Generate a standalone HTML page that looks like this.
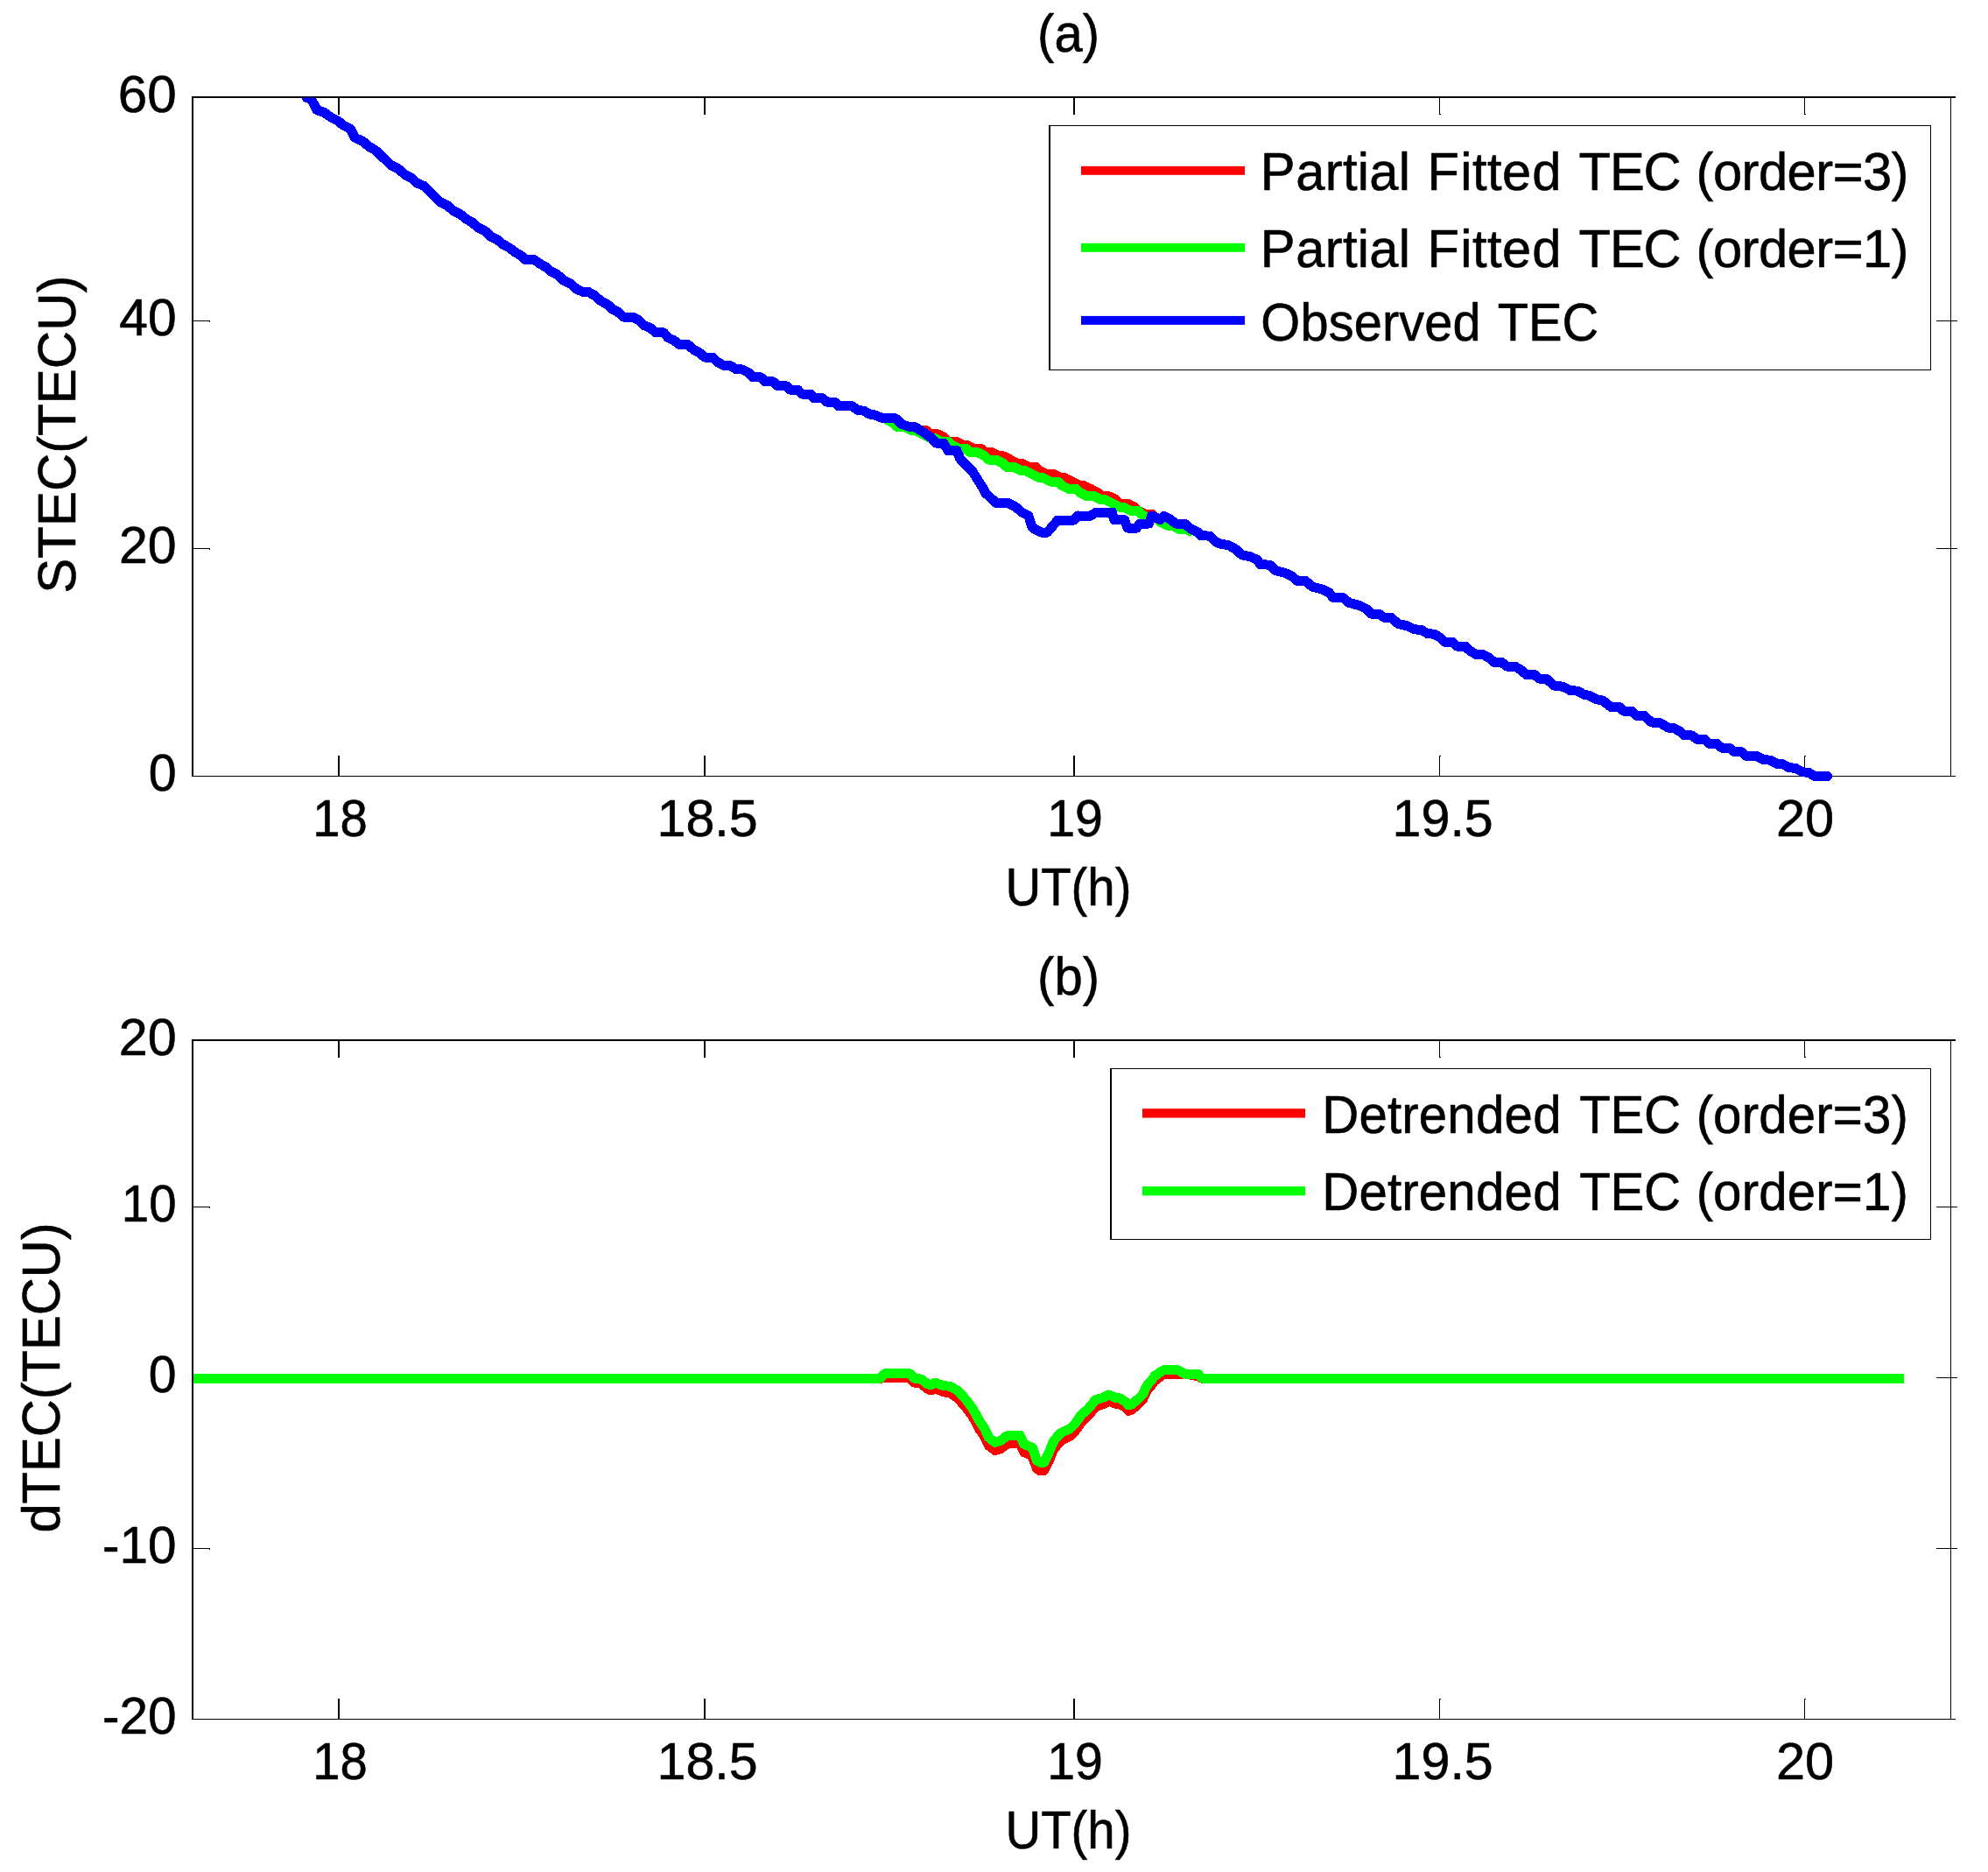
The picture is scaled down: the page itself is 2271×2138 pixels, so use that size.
<!DOCTYPE html>
<html><head><meta charset="utf-8"><title>TEC detrending figure</title>
<style>html,body{margin:0;padding:0;background:#fff}svg text{font-kerning:none;fill:#000;stroke:#000;stroke-width:1.0px;stroke-linejoin:round}</style></head>
<body>
<svg width="2271" height="2138" viewBox="0 0 2271 2138" style="display:block">
<rect width="2271" height="2138" fill="#fff"/>
<defs><clipPath id="ca"><rect x="221" y="111.5" width="2012" height="790"/></clipPath></defs>
<g shape-rendering="crispEdges">
<rect x="219" y="110" width="2" height="777" fill="#000"/>
<rect x="219" y="110" width="2015" height="2" fill="#000"/>
<rect x="219" y="886" width="2015" height="1" fill="#000"/>
<rect x="2228" y="110" width="1" height="777" fill="#000"/>
<rect x="386" y="112" width="2" height="19" fill="#000"/>
<rect x="386" y="863" width="2" height="23" fill="#000"/>
<rect x="804" y="112" width="2" height="19" fill="#000"/>
<rect x="804" y="863" width="2" height="23" fill="#000"/>
<rect x="1226" y="112" width="2" height="19" fill="#000"/>
<rect x="1226" y="863" width="2" height="23" fill="#000"/>
<rect x="1644" y="112" width="1" height="19" fill="#000"/>
<rect x="1644" y="863" width="1" height="23" fill="#000"/>
<rect x="1645" y="863" width="1" height="1" fill="#000"/>
<rect x="1645" y="130" width="1" height="1" fill="#000"/>
<rect x="2061" y="112" width="1" height="19" fill="#000"/>
<rect x="2061" y="863" width="1" height="23" fill="#000"/>
<rect x="2062" y="863" width="1" height="1" fill="#000"/>
<rect x="2062" y="130" width="1" height="1" fill="#000"/>
<rect x="221" y="366" width="19" height="1" fill="#000"/>
<rect x="239" y="366" width="1" height="2" fill="#000"/>
<rect x="2212" y="366" width="24" height="1" fill="#000"/>
<rect x="221" y="626" width="19" height="1" fill="#000"/>
<rect x="239" y="626" width="1" height="2" fill="#000"/>
<rect x="2212" y="626" width="24" height="1" fill="#000"/>
</g>
<g clip-path="url(#ca)">
<polyline points="1037.5,487.5 1041.7,487.5 1050.0,491.7 1058.3,491.7 1062.5,495.8 1070.8,495.8 1079.2,500.0 1083.3,504.2 1091.7,504.2 1100.0,508.3 1104.2,508.3 1112.5,512.5 1120.8,512.5 1125.0,516.7 1133.3,516.7 1141.7,520.8 1145.8,520.8 1154.2,525.0 1162.5,529.2 1166.7,529.2 1175.0,533.3 1183.3,533.3 1187.5,537.5 1195.8,541.7 1204.2,541.7 1212.5,545.8 1216.7,545.8 1225.0,550.0 1233.3,554.2 1237.5,554.2 1245.8,558.3 1254.2,562.5 1258.3,566.7 1266.7,566.7 1275.0,570.8 1279.2,575.0 1287.5,575.0 1295.8,579.2 1300.0,583.3 1308.3,587.5 1316.7,587.5 1320.8,591.7" fill="none" stroke="#f00" stroke-width="11" stroke-linejoin="round" stroke-linecap="butt" shape-rendering="crispEdges"/>
<polyline points="1012.5,479.2 1020.8,483.3 1025.0,487.5 1033.3,487.5 1041.7,491.7 1045.8,491.7 1054.2,495.8 1062.5,500.0 1066.7,500.0 1075.0,504.2 1083.3,504.2 1087.5,508.3 1095.8,512.5 1104.2,512.5 1108.3,516.7 1116.7,516.7 1125.0,520.8 1129.2,525.0 1137.5,525.0 1145.8,529.2 1150.0,533.3 1158.3,533.3 1166.7,537.5 1170.8,537.5 1179.2,541.7 1187.5,545.8 1191.7,545.8 1200.0,550.0 1208.3,550.0 1212.5,554.2 1220.8,558.3 1229.2,558.3 1233.3,562.5 1241.7,566.7 1250.0,566.7 1258.3,570.8 1262.5,570.8 1270.8,575.0 1279.2,579.2 1283.3,579.2 1291.7,583.3 1300.0,583.3 1304.2,587.5 1312.5,591.7 1320.8,591.7 1325.0,595.8 1333.3,600.0 1341.7,600.0 1345.8,604.2 1354.2,604.2 1362.5,608.3" fill="none" stroke="#0f0" stroke-width="11" stroke-linejoin="round" stroke-linecap="butt" shape-rendering="crispEdges"/>
<polyline points="350.1,111.5 355.4,113.3 359.4,120.1 362.2,125.8 370.2,128.2 378.3,134.2 386.3,138.2 392.4,143.3 400.4,147.3 405.5,157.3 414.5,161.4 421.5,167.4 428.6,171.4 446.7,188.5 454.7,192.6 462.8,199.6 470.8,203.6 475.9,208.7 484.9,212.7 503.0,230.8 511.1,234.8 518.1,240.8 526.2,244.9 532.2,249.9 539.3,253.9 546.3,260.0 554.3,264.0 560.4,270.0 568.4,274.0 574.5,279.1 581.5,282.7 588.6,288.1 595.6,292.2 600.6,296.8 610.7,296.8 616.7,301.2 623.8,305.2 629.8,310.3 636.8,313.7 643.9,320.3 651.9,324.3 659.0,330.4 666.0,333.4 672.1,333.4 679.1,337.4 686.1,343.5 694.2,347.9 700.2,353.5 706.0,356.4 712.1,362.0 722.6,362.0 729.4,365.5 735.5,371.5 743.0,374.5 749.0,379.8 758.1,379.8 763.4,385.8 770.2,388.9 776.2,393.7 786.0,393.7 792.0,399.1 799.6,403.2 804.9,408.0 813.9,408.0 820.0,413.7 826.8,417.5 834.3,417.8 841.1,421.7 847.9,422.0 855.4,425.8 860.0,430.8 869.0,430.8 874.3,435.9 883.3,435.9 888.6,440.9 898.4,440.9 902.2,445.0 911.3,445.0 915.8,450.0 926.3,450.0 930.1,454.9 939.9,454.9 944.5,459.0 953.5,459.0 958.0,463.8 973.1,463.8 980.7,468.8 986.7,469.1 993.5,473.1 997.5,473.3 1008.9,477.9 1023.3,477.9 1030.2,484.6 1037.8,487.1 1045.3,487.7 1055.4,494.0 1064.2,500.3 1069.2,506.0 1078.0,506.0 1083.1,514.8 1093.1,514.8 1096.9,524.2 1110.7,538.0 1117.0,548.1 1123.3,558.1 1125.8,563.2 1138.4,574.7 1152.2,574.7 1161.0,579.5 1167.3,585.2 1174.9,589.0 1178.6,600.9 1181.1,604.0 1189.9,608.2 1196.2,608.2 1208.2,594.2 1226.4,594.2 1231.4,589.0 1232.6,589.2 1245.2,589.2 1252.7,585.0 1270.3,585.0 1272.8,593.9 1284.8,593.9 1287.9,603.0 1298.6,603.0 1301.7,598.0 1312.4,598.0 1315.6,589.2 1321.9,591.7 1325.6,593.6 1329.4,589.4 1335.7,592.3 1343.2,598.0 1353.3,598.0 1359.6,603.6 1368.4,608.0 1372.2,611.8 1382.2,612.1 1388.5,618.7 1396.1,621.9 1402.3,622.1 1411.1,626.9 1418.7,633.8 1428.8,635.9 1436.3,639.5 1440.0,644.8 1450.3,645.1 1457.1,651.6 1467.4,654.2 1475.1,657.6 1481.9,663.3 1491.3,663.3 1499.0,670.1 1510.1,673.0 1517.8,676.4 1522.9,682.4 1534.1,682.4 1540.9,688.4 1552.9,691.5 1560.6,695.3 1566.6,701.1 1575.1,701.1 1581.1,705.2 1588.8,705.2 1597.3,712.4 1607.6,714.9 1616.2,718.9 1623.0,719.2 1630.7,723.5 1638.4,724.3 1645.2,728.1 1650.4,733.2 1658.9,733.2 1664.0,738.0 1673.5,738.0 1679.4,743.5 1686.3,747.4 1694.8,747.9 1701.7,751.7 1706.8,756.3 1715.4,756.3 1721.3,761.1 1730.7,761.1 1737.6,765.4 1743.6,770.5 1753.0,770.5 1758.1,775.1 1760.0,775.1 1766.8,775.4 1775.4,783.1 1785.7,784.3 1794.2,788.7 1801.9,789.1 1809.6,793.4 1814.7,794.2 1823.3,798.5 1831.0,800.2 1840.4,807.4 1849.8,807.4 1854.9,812.2 1864.3,812.2 1869.5,817.3 1878.0,817.3 1886.6,825.0 1896.8,825.8 1905.4,831.0 1912.2,831.5 1919.1,835.3 1924.2,839.9 1932.7,839.9 1938.7,844.3 1947.3,844.3 1952.4,849.3 1961.0,849.3 1966.9,854.1 1975.5,854.1 1981.5,858.7 1989.2,858.7 1995.2,863.5 2006.3,863.5 2014.8,867.7 2021.7,868.1 2030.2,872.4 2037.1,872.9 2043.9,876.8 2050.7,877.2 2059.3,881.8 2066.1,882.3 2073.0,886.6 2087.5,886.6" fill="none" stroke="#00f" stroke-width="11" stroke-linejoin="round" stroke-linecap="round" shape-rendering="crispEdges"/>
</g>
<g shape-rendering="crispEdges">
<rect x="1198" y="143" width="1008" height="280" fill="#fff"/>
<rect x="1198" y="143" width="1008" height="1" fill="#000"/>
<rect x="1198" y="422" width="1008" height="1" fill="#000"/>
<rect x="1198" y="143" width="2" height="280" fill="#000"/>
<rect x="2205" y="143" width="1" height="280" fill="#000"/>
</g>
<rect x="1235" y="189.8" width="187" height="10" fill="#f00"/>
<rect x="1235" y="277.8" width="187" height="10" fill="#0f0"/>
<rect x="1235" y="360.9" width="187" height="10" fill="#00f"/>
<text transform="matrix(0.5966 0 0 0.6050 0 217.00)" x="2413.4 2481.0 2537.4 2571.1 2599.3 2621.8 2678.2 2700.7 2733.2 2796.2 2819.2 2847.8 2876.5 2933.9 2991.2 3023.0 3082.4 3147.2 3217.4 3247.4 3280.1 3334.7 3367.4 3422.1 3476.7 3509.4 3566.8 3621.4" y="0" font-size="100" font-family="Liberation Sans, Arial, Helvetica, sans-serif">Partial Fitted TEC (order=3)</text>
<text transform="matrix(0.5966 0 0 0.6050 0 304.90)" x="2413.4 2481.0 2537.4 2571.1 2599.3 2621.8 2678.2 2700.7 2733.2 2796.2 2819.2 2847.8 2876.5 2933.9 2991.2 3023.0 3082.4 3147.2 3217.4 3247.4 3280.1 3334.7 3367.4 3422.1 3476.7 3509.4 3566.8 3621.4" y="0" font-size="100" font-family="Liberation Sans, Arial, Helvetica, sans-serif">Partial Fitted TEC (order=1)</text>
<text transform="matrix(0.5780 0 0 0.6050 0 389.00)" x="2491.9 2570.0 2625.8 2676.0 2731.8 2765.2 2815.4 2871.2 2927.0 2959.9 3020.7 3087.2" y="0" font-size="100" font-family="Liberation Sans, Arial, Helvetica, sans-serif">Observed TEC</text>
<text transform="matrix(0.5801 0 0 0.6050 1185.10 58.80)" font-size="100" font-family="Liberation Sans, Arial, Helvetica, sans-serif">(a)</text>
<text transform="matrix(0.5637 0 0 0.6050 1148.45 1033.70)" font-size="100" font-family="Liberation Sans, Arial, Helvetica, sans-serif">UT(h)</text>
<text transform="translate(86.00 677.72) rotate(-90) scale(0.5999 0.6050)" font-size="100" font-family="Liberation Sans, Arial, Helvetica, sans-serif">STEC(TECU)</text>
<text transform="matrix(0.5621 0 0 0.5904 357.22 954.62)" font-size="100" font-family="Liberation Sans, Arial, Helvetica, sans-serif">18</text>
<text transform="matrix(0.5913 0 0 0.5904 750.60 954.62)" font-size="100" font-family="Liberation Sans, Arial, Helvetica, sans-serif">18.5</text>
<text transform="matrix(0.5724 0 0 0.5904 1196.24 954.62)" font-size="100" font-family="Liberation Sans, Arial, Helvetica, sans-serif">19</text>
<text transform="matrix(0.5919 0 0 0.5904 1590.59 954.62)" font-size="100" font-family="Liberation Sans, Arial, Helvetica, sans-serif">19.5</text>
<text transform="matrix(0.5953 0 0 0.5904 2029.01 954.62)" font-size="100" font-family="Liberation Sans, Arial, Helvetica, sans-serif">20</text>
<text transform="matrix(0.6015 0 0 0.5890 134.75 128.12)" font-size="100" font-family="Liberation Sans, Arial, Helvetica, sans-serif">60</text>
<text transform="matrix(0.5865 0 0 0.5890 136.35 383.37)" font-size="100" font-family="Liberation Sans, Arial, Helvetica, sans-serif">40</text>
<text transform="matrix(0.5904 0 0 0.5890 135.93 643.37)" font-size="100" font-family="Liberation Sans, Arial, Helvetica, sans-serif">20</text>
<text transform="matrix(0.5732 0 0 0.5890 169.66 903.32)" font-size="100" font-family="Liberation Sans, Arial, Helvetica, sans-serif">0</text>
<g shape-rendering="crispEdges">
<rect x="219" y="1187" width="2" height="777" fill="#000"/>
<rect x="219" y="1187" width="2015" height="2" fill="#000"/>
<rect x="219" y="1963" width="2015" height="1" fill="#000"/>
<rect x="2228" y="1187" width="1" height="777" fill="#000"/>
<rect x="386" y="1189" width="2" height="19" fill="#000"/>
<rect x="386" y="1940" width="2" height="23" fill="#000"/>
<rect x="804" y="1189" width="2" height="19" fill="#000"/>
<rect x="804" y="1940" width="2" height="23" fill="#000"/>
<rect x="1226" y="1189" width="2" height="19" fill="#000"/>
<rect x="1226" y="1940" width="2" height="23" fill="#000"/>
<rect x="1644" y="1189" width="1" height="19" fill="#000"/>
<rect x="1644" y="1940" width="1" height="23" fill="#000"/>
<rect x="1645" y="1940" width="1" height="1" fill="#000"/>
<rect x="1645" y="1207" width="1" height="1" fill="#000"/>
<rect x="2061" y="1189" width="1" height="19" fill="#000"/>
<rect x="2061" y="1940" width="1" height="23" fill="#000"/>
<rect x="2062" y="1940" width="1" height="1" fill="#000"/>
<rect x="2062" y="1207" width="1" height="1" fill="#000"/>
<rect x="221" y="1378" width="19" height="1" fill="#000"/>
<rect x="239" y="1378" width="1" height="2" fill="#000"/>
<rect x="2212" y="1378" width="24" height="1" fill="#000"/>
<rect x="221" y="1573" width="19" height="1" fill="#000"/>
<rect x="239" y="1573" width="1" height="2" fill="#000"/>
<rect x="2212" y="1573" width="24" height="1" fill="#000"/>
<rect x="221" y="1768" width="19" height="1" fill="#000"/>
<rect x="239" y="1768" width="1" height="2" fill="#000"/>
<rect x="2212" y="1768" width="24" height="1" fill="#000"/>
</g>
<polyline points="1000.0,1574.0 1005.7,1574.5 1010.7,1573.0 1015.2,1573.9 1034.0,1573.9 1039.7,1573.9 1044.1,1579.0 1048.5,1579.0 1053.5,1581.2 1059.2,1586.1 1063.6,1587.9 1068.0,1585.5 1073.0,1587.7 1078.0,1589.8 1085.6,1591.2 1094.4,1597.0 1103.2,1607.2 1109.5,1615.4 1115.1,1624.8 1119.5,1633.2 1124.6,1640.3 1129.6,1651.0 1136.5,1656.4 1142.8,1654.8 1149.7,1649.4 1156.0,1648.4 1164.8,1648.4 1169.8,1658.6 1179.3,1662.6 1184.3,1677.4 1188.7,1680.0 1192.7,1679.7 1198.8,1667.1 1203.8,1655.0 1211.3,1646.0 1222.6,1640.2 1228.9,1633.5 1235.2,1624.1 1242.8,1617.3 1251.6,1606.6 1257.8,1604.5 1261.6,1603.0 1266.6,1600.3 1270.4,1601.5 1275.5,1603.8 1279.2,1603.7 1286.1,1607.7 1289.3,1611.4 1293.1,1609.9 1300.6,1603.5 1305.6,1598.4 1308.8,1590.7 1311.9,1585.9 1315.7,1581.7 1318.8,1576.9 1320.7,1575.8 1327.0,1571.1 1330.8,1569.2 1344.6,1569.1 1353.4,1569.0 1368.5,1571.7 1372.9,1574.1 1380.0,1574.0" fill="none" stroke="#f00" stroke-width="11" stroke-linejoin="round" stroke-linecap="butt" shape-rendering="crispEdges"/>
<polyline points="220.5,1574.0 1005.7,1574.0 1010.7,1568.9 1015.2,1568.9 1034.0,1568.9 1039.7,1568.9 1044.1,1574.0 1048.5,1574.0 1053.5,1576.0 1059.2,1580.4 1063.6,1581.8 1068.0,1579.0 1073.0,1580.9 1078.0,1582.6 1085.6,1583.4 1094.4,1588.4 1103.2,1598.2 1109.5,1606.3 1115.1,1615.8 1119.5,1624.1 1124.6,1631.2 1129.6,1641.9 1136.5,1647.2 1142.8,1645.6 1149.7,1640.2 1156.0,1639.1 1164.8,1639.1 1169.8,1649.3 1179.3,1653.2 1184.3,1668.0 1188.7,1670.5 1192.7,1670.3 1198.8,1657.6 1203.8,1645.6 1211.3,1636.8 1222.6,1631.5 1228.9,1624.9 1235.2,1615.8 1242.8,1609.2 1251.6,1598.8 1257.8,1596.9 1261.6,1595.5 1266.6,1593.0 1270.4,1594.4 1275.5,1596.9 1279.2,1596.9 1286.1,1601.2 1289.3,1604.9 1293.1,1603.6 1300.6,1597.4 1305.6,1592.5 1308.8,1585.0 1311.9,1580.3 1315.7,1576.2 1318.8,1571.5 1320.7,1570.5 1327.0,1566.0 1330.8,1564.2 1344.6,1564.2 1353.4,1569.0 1368.5,1569.0 1372.9,1574.0 2175.0,1574.0" fill="none" stroke="#0f0" stroke-width="11" stroke-linejoin="round" stroke-linecap="butt" shape-rendering="crispEdges"/>
<g shape-rendering="crispEdges">
<rect x="1268" y="1220" width="938" height="196" fill="#fff"/>
<rect x="1268" y="1220" width="938" height="1" fill="#000"/>
<rect x="1268" y="1415" width="938" height="1" fill="#000"/>
<rect x="1268" y="1220" width="2" height="196" fill="#000"/>
<rect x="2205" y="1220" width="1" height="196" fill="#000"/>
</g>
<rect x="1305" y="1266.2" width="186" height="10.4" fill="#f00"/>
<rect x="1305" y="1355.0" width="186" height="10.4" fill="#0f0"/>
<text transform="matrix(0.5823 0 0 0.6050 0 1294.20)" x="2593.4 2666.1 2722.0 2750.0 2783.5 2839.4 2895.4 2951.3 3007.3 3063.3 3098.7 3159.1 3225.1 3296.5 3327.6 3361.0 3416.9 3450.4 3506.2 3562.1 3595.6 3654.3 3710.1" y="0" font-size="100" font-family="Liberation Sans, Arial, Helvetica, sans-serif">Detrended TEC (order=3)</text>
<text transform="matrix(0.5823 0 0 0.6050 0 1382.30)" x="2593.4 2666.1 2722.0 2750.0 2783.5 2839.4 2895.4 2951.3 3007.3 3063.3 3098.7 3159.1 3225.1 3296.5 3327.6 3361.0 3416.9 3450.4 3506.2 3562.1 3595.6 3654.3 3710.1" y="0" font-size="100" font-family="Liberation Sans, Arial, Helvetica, sans-serif">Detrended TEC (order=1)</text>
<text transform="matrix(0.5801 0 0 0.6050 1185.10 1136.00)" font-size="100" font-family="Liberation Sans, Arial, Helvetica, sans-serif">(b)</text>
<text transform="matrix(0.5637 0 0 0.6050 1148.45 2110.80)" font-size="100" font-family="Liberation Sans, Arial, Helvetica, sans-serif">UT(h)</text>
<text transform="translate(68.00 1750.60) rotate(-90) scale(0.5962 0.6050)" font-size="100" font-family="Liberation Sans, Arial, Helvetica, sans-serif">dTEC(TECU)</text>
<text transform="matrix(0.5621 0 0 0.5904 357.22 2031.52)" font-size="100" font-family="Liberation Sans, Arial, Helvetica, sans-serif">18</text>
<text transform="matrix(0.5913 0 0 0.5904 750.60 2031.52)" font-size="100" font-family="Liberation Sans, Arial, Helvetica, sans-serif">18.5</text>
<text transform="matrix(0.5724 0 0 0.5904 1196.24 2031.52)" font-size="100" font-family="Liberation Sans, Arial, Helvetica, sans-serif">19</text>
<text transform="matrix(0.5919 0 0 0.5904 1590.59 2031.52)" font-size="100" font-family="Liberation Sans, Arial, Helvetica, sans-serif">19.5</text>
<text transform="matrix(0.5953 0 0 0.5904 2029.01 2031.52)" font-size="100" font-family="Liberation Sans, Arial, Helvetica, sans-serif">20</text>
<text transform="matrix(0.5924 0 0 0.5890 135.72 1205.32)" font-size="100" font-family="Liberation Sans, Arial, Helvetica, sans-serif">20</text>
<text transform="matrix(0.5637 0 0 0.5890 138.81 1395.12)" font-size="100" font-family="Liberation Sans, Arial, Helvetica, sans-serif">10</text>
<text transform="matrix(0.5711 0 0 0.5890 169.77 1590.32)" font-size="100" font-family="Liberation Sans, Arial, Helvetica, sans-serif">0</text>
<text transform="matrix(0.5845 0 0 0.5890 117.10 1784.82)" font-size="100" font-family="Liberation Sans, Arial, Helvetica, sans-serif">-10</text>
<text transform="matrix(0.5860 0 0 0.5890 116.90 1980.32)" font-size="100" font-family="Liberation Sans, Arial, Helvetica, sans-serif">-20</text>
</svg>
</body></html>
